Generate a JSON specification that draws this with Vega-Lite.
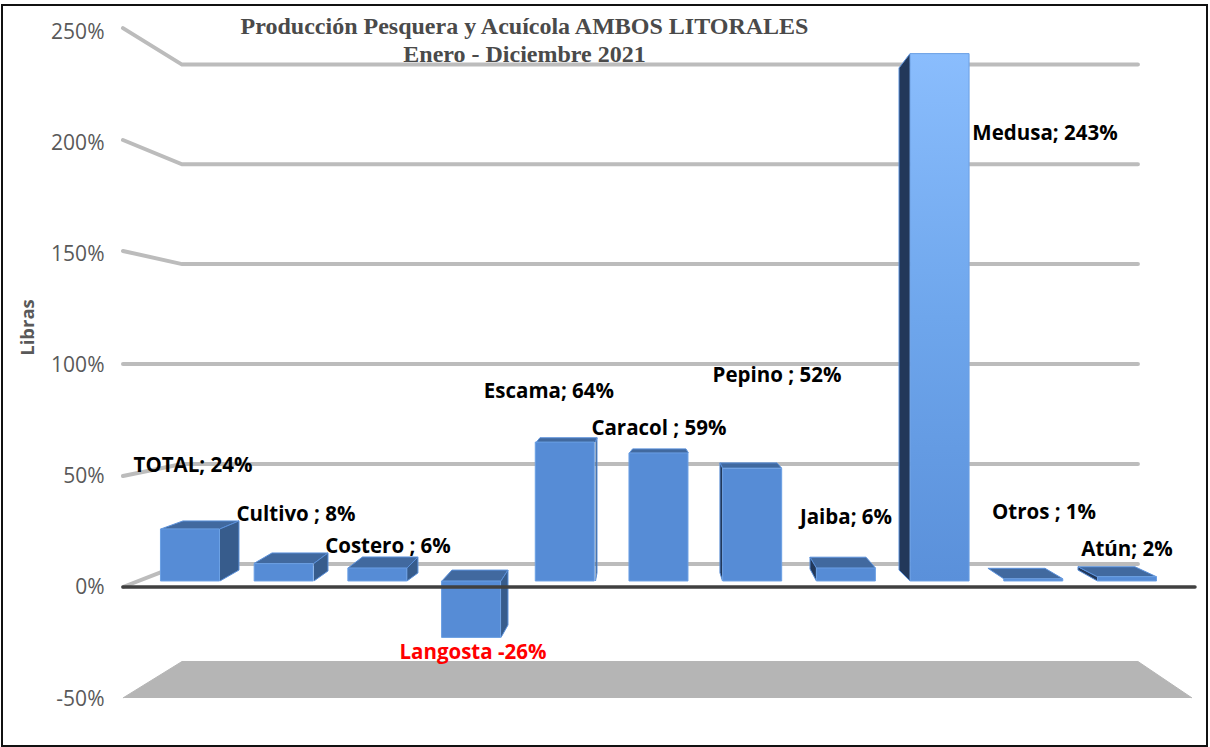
{
"$schema":"https://vega.github.io/schema/vega-lite/v6.json",
"width":1205,"height":741,
"autosize":{"type":"none"},
"padding":{"left":2,"top":5,"right":3,"bottom":1},
"background":"white",
"view":{"stroke":"#111111","strokeWidth":2,"fill":"white"},
"title":{"text":["Producción Pesquera y Acuícola AMBOS LITORALES","Enero - Diciembre  2021"],"font":"Liberation Serif","fontSize":24,"fontWeight":"bold","color":"#4a4a4a","anchor":"middle","frame":"group","orient":"top","baseline":"top","offset":-62,"dx":-80,"lineHeight":28},
"datasets":{
"bars":[
{"category":"TOTAL","pos":1,"value":24},{"category":"Cultivo","pos":2,"value":8},{"category":"Costero","pos":3,"value":6},{"category":"Langosta","pos":4,"value":-26},{"category":"Escama","pos":5,"value":64},{"category":"Caracol","pos":6,"value":59},{"category":"Pepino","pos":7,"value":52},{"category":"Jaiba","pos":8,"value":6},{"category":"Medusa","pos":9,"value":243},{"category":"Otros","pos":10,"value":1},{"category":"Atún","pos":11,"value":2}],
"labels":[
{"label":"TOTAL; 24%","pos":1.032,"val":54.9,"kind":"pos"},{"label":"Cultivo ; 8%","pos":2.131,"val":32.8,"kind":"pos"},{"label":"Costero ; 6%","pos":3.113,"val":18.4,"kind":"pos"},{"label":"Langosta -26%","pos":4.02,"val":-29.2,"kind":"neg"},{"label":"Escama; 64%","pos":4.831,"val":88.1,"kind":"pos"},{"label":"Caracol ; 59%","pos":6.005,"val":71.5,"kind":"pos"},{"label":"Pepino ; 52%","pos":7.265,"val":95.3,"kind":"pos"},{"label":"Jaiba; 6%","pos":8.001,"val":31.5,"kind":"pos"},{"label":"Medusa; 243%","pos":10.125,"val":204.1,"kind":"pos"},{"label":"Otros ; 1%","pos":10.114,"val":33.7,"kind":"pos"},{"label":"Atún; 2%","pos":11,"val":17.1,"kind":"pos"}],
"grid":[
{"level":"250%","n":1,"pos":0.285,"val":251.3},{"level":"250%","n":2,"pos":0.915,"val":234.9},{"level":"250%","n":3,"pos":11.117,"val":234.9},
{"level":"200%","n":1,"pos":0.285,"val":201},{"level":"200%","n":2,"pos":0.915,"val":190.1},{"level":"200%","n":3,"pos":11.117,"val":190.1},
{"level":"150%","n":1,"pos":0.285,"val":151.1},{"level":"150%","n":2,"pos":0.915,"val":145.2},{"level":"150%","n":3,"pos":11.117,"val":145.2},
{"level":"100%","n":1,"pos":0.285,"val":100.3},{"level":"100%","n":2,"pos":0.915,"val":100.3},{"level":"100%","n":3,"pos":11.117,"val":100.3},
{"level":"50%","n":1,"pos":0.285,"val":49.9},{"level":"50%","n":2,"pos":0.915,"val":55.3},{"level":"50%","n":3,"pos":11.117,"val":55.3},
{"level":"0%","n":1,"pos":0.285,"val":0},{"level":"0%","n":2,"pos":0.915,"val":10.3},{"level":"0%","n":3,"pos":11.117,"val":10.3}],
"floor":[{"n":1,"pos":0.285,"val":-49.9},{"n":2,"pos":0.915,"val":-33.5},{"n":3,"pos":11.117,"val":-33.5},{"n":4,"pos":11.694,"val":-49.9}],
"baseline":[{"n":1,"pos":0.285,"val":0},{"n":2,"pos":11.726,"val":0}],
"faces":[
{"poly":"TOTAL top","face":"top","n":1,"pos":0.69,"val":26.1},{"poly":"TOTAL top","face":"top","n":2,"pos":0.925,"val":29.7},{"poly":"TOTAL top","face":"top","n":3,"pos":1.523,"val":29.7},{"poly":"TOTAL top","face":"top","n":4,"pos":1.32,"val":26.1},
{"poly":"TOTAL side","face":"right","n":1,"pos":1.32,"val":26.1},{"poly":"TOTAL side","face":"right","n":2,"pos":1.523,"val":29.7},{"poly":"TOTAL side","face":"right","n":3,"pos":1.523,"val":7.6},{"poly":"TOTAL side","face":"right","n":4,"pos":1.32,"val":2.7},
{"poly":"Cultivo top","face":"top","n":1,"pos":1.683,"val":10.6},{"poly":"Cultivo top","face":"top","n":2,"pos":1.875,"val":15.3},{"poly":"Cultivo top","face":"top","n":3,"pos":2.473,"val":15.3},{"poly":"Cultivo top","face":"top","n":4,"pos":2.323,"val":10.6},
{"poly":"Cultivo side","face":"right","n":1,"pos":2.323,"val":10.6},{"poly":"Cultivo side","face":"right","n":2,"pos":2.473,"val":15.3},{"poly":"Cultivo side","face":"right","n":3,"pos":2.473,"val":7.2},{"poly":"Cultivo side","face":"right","n":4,"pos":2.323,"val":2.7},
{"poly":"Costero top","face":"top","n":1,"pos":2.686,"val":8.5},{"poly":"Costero top","face":"top","n":2,"pos":2.841,"val":13.5},{"poly":"Costero top","face":"top","n":3,"pos":3.433,"val":13.5},{"poly":"Costero top","face":"top","n":4,"pos":3.316,"val":8.5},
{"poly":"Costero side","face":"right","n":1,"pos":3.316,"val":8.5},{"poly":"Costero side","face":"right","n":2,"pos":3.433,"val":13.5},{"poly":"Costero side","face":"right","n":3,"pos":3.433,"val":6.3},{"poly":"Costero side","face":"right","n":4,"pos":3.316,"val":2.7},
{"poly":"Langosta top","face":"top","n":1,"pos":3.689,"val":2.7},{"poly":"Langosta top","face":"top","n":2,"pos":3.796,"val":7.6},{"poly":"Langosta top","face":"top","n":3,"pos":4.394,"val":7.6},{"poly":"Langosta top","face":"top","n":4,"pos":4.319,"val":2.7},
{"poly":"Langosta side","face":"right","n":1,"pos":4.319,"val":2.7},{"poly":"Langosta side","face":"right","n":2,"pos":4.394,"val":7.6},{"poly":"Langosta side","face":"right","n":3,"pos":4.394,"val":-17.1},{"poly":"Langosta side","face":"right","n":4,"pos":4.319,"val":-22.7},
{"poly":"Escama top","face":"top","n":1,"pos":4.698,"val":65.2},{"poly":"Escama top","face":"top","n":2,"pos":4.735,"val":67.1},{"poly":"Escama top","face":"top","n":3,"pos":5.344,"val":67.1},{"poly":"Escama top","face":"top","n":4,"pos":5.328,"val":65.2},
{"poly":"Escama side","face":"right","n":1,"pos":5.328,"val":65.2},{"poly":"Escama side","face":"right","n":2,"pos":5.344,"val":67.1},{"poly":"Escama side","face":"right","n":3,"pos":5.344,"val":6.4},{"poly":"Escama side","face":"right","n":4,"pos":5.328,"val":2.7},
{"poly":"Caracol top","face":"top","n":1,"pos":5.69,"val":60.3},{"poly":"Caracol top","face":"top","n":2,"pos":5.724,"val":62.1},{"poly":"Caracol top","face":"top","n":3,"pos":6.293,"val":62.1},{"poly":"Caracol top","face":"top","n":4,"pos":6.32,"val":60.3},
{"poly":"Pepino top","face":"top","n":1,"pos":6.683,"val":53.5},{"poly":"Pepino top","face":"top","n":2,"pos":6.656,"val":55.8},{"poly":"Pepino top","face":"top","n":3,"pos":7.265,"val":55.8},{"poly":"Pepino top","face":"top","n":4,"pos":7.313,"val":53.5},
{"poly":"Pepino side","face":"left","n":1,"pos":6.683,"val":53.5},{"poly":"Pepino side","face":"left","n":2,"pos":6.656,"val":55.8},{"poly":"Pepino side","face":"left","n":3,"pos":6.656,"val":6.4},{"poly":"Pepino side","face":"left","n":4,"pos":6.683,"val":2.7},
{"poly":"Jaiba top","face":"top","n":1,"pos":7.686,"val":8.5},{"poly":"Jaiba top","face":"top","n":2,"pos":7.617,"val":13.4},{"poly":"Jaiba top","face":"top","n":3,"pos":8.215,"val":13.4},{"poly":"Jaiba top","face":"top","n":4,"pos":8.316,"val":8.5},
{"poly":"Jaiba side","face":"left","n":1,"pos":7.686,"val":8.5},{"poly":"Jaiba side","face":"left","n":2,"pos":7.617,"val":13.4},{"poly":"Jaiba side","face":"left","n":3,"pos":7.617,"val":8.1},{"poly":"Jaiba side","face":"left","n":4,"pos":7.686,"val":2.7},
{"poly":"Medusa side","face":"left","n":1,"pos":8.684,"val":239.8},{"poly":"Medusa side","face":"left","n":2,"pos":8.567,"val":233.4},{"poly":"Medusa side","face":"left","n":3,"pos":8.567,"val":7.6},{"poly":"Medusa side","face":"left","n":4,"pos":8.684,"val":2.7},
{"poly":"Otros top","face":"top","n":1,"pos":9.685,"val":3.7},{"poly":"Otros top","face":"top","n":2,"pos":9.516,"val":8.4},{"poly":"Otros top","face":"top","n":3,"pos":10.125,"val":8.4},{"poly":"Otros top","face":"top","n":4,"pos":10.315,"val":3.7},
{"poly":"Atún side","face":"left","n":1,"pos":10.685,"val":4.6},{"poly":"Atún side","face":"left","n":2,"pos":10.477,"val":9.1},{"poly":"Atún side","face":"left","n":3,"pos":10.477,"val":7.6},{"poly":"Atún side","face":"left","n":4,"pos":10.685,"val":2.7},
{"poly":"Atún top","face":"top","n":1,"pos":10.685,"val":4.6},{"poly":"Atún top","face":"top","n":2,"pos":10.477,"val":9.1},{"poly":"Atún top","face":"top","n":3,"pos":11.085,"val":9.1},{"poly":"Atún top","face":"top","n":4,"pos":11.315,"val":4.6}
]},
"encoding":{"x":{"field":"pos","type":"quantitative","scale":{"domain":[-1.006,11.854],"nice":false,"zero":false,"padding":0},"axis":null}},
"layer":[
{"data":{"name":"floor"},"mark":{"type":"line","fill":"#b5b5b5","stroke":"#b5b5b5","strokeWidth":1,"interpolate":"linear"},
 "encoding":{"order":{"field":"n","type":"quantitative"},"y":{"field":"val","type":"quantitative","scale":{"domain":[-71.5,261.7],"nice":false,"zero":false},
 "axis":{"title":"Libras","titleFont":"Open Sans","titleFontSize":18.5,"titleFontWeight":"bold","titleColor":"#595959","titleX":-67,"titleY":322,"titleAngle":-90,"values":[-50,0,50,100,150,200,250],"labelExpr":"datum.value + '%'","labelFont":"Open Sans","labelFontSize":21,"labelColor":"#595959","labelPadding":0,"labelOffset":1,"domain":false,"ticks":false,"grid":false,"offset":-102,"labelOverlap":false}}}},
{"data":{"name":"grid"},"mark":{"type":"line","stroke":"#bcbcbc","strokeWidth":4,"strokeCap":"round"},
 "encoding":{"detail":{"field":"level"},"order":{"field":"n","type":"quantitative"},"y":{"field":"val","type":"quantitative","scale":{"domain":[-71.5,261.7],"nice":false,"zero":false},"axis":null}}},
{"data":{"name":"faces"},"mark":{"type":"line","strokeWidth":1,"strokeJoin":"round"},
 "encoding":{"detail":{"field":"poly"},"order":{"field":"n","type":"quantitative"},"y":{"field":"val","type":"quantitative","scale":{"domain":[-71.5,261.7],"nice":false,"zero":false},"axis":null},
 "fill":{"field":"face","type":"nominal","scale":{"domain":["top","right","left"],"range":["#41699f","#375c8c","#22385a"]},"legend":null},
 "stroke":{"value":"#5a90da"}}},
{"data":{"name":"bars"},"mark":{"type":"bar","orient":"vertical","size":59,"stroke":"#6a9fe4","strokeWidth":1},
 "encoding":{"y":{"field":"value","type":"quantitative","scale":{"domain":[-76.04,265.4],"nice":false,"zero":false},"axis":null},"y2":{"datum":0},
 "fill":{"condition":{"test":"datum.category === 'Medusa'","value":{"gradient":"linear","x1":0,"y1":0,"x2":0,"y2":1,"stops":[{"offset":0,"color":"#8abdfd"},{"offset":0.5,"color":"#6ea6ec"},{"offset":1,"color":"#5a90da"}]}},"value":"#568cd6"}}},
{"data":{"name":"baseline"},"mark":{"type":"line","stroke":"#404040","strokeWidth":3.5,"strokeCap":"round"},
 "encoding":{"order":{"field":"n","type":"quantitative"},"y":{"field":"val","type":"quantitative","scale":{"domain":[-71.5,261.7],"nice":false,"zero":false},"axis":null}}},
{"data":{"name":"labels"},"mark":{"type":"text","font":"Open Sans","fontWeight":"bold","fontSize":20.5,"align":"center","baseline":"middle","dy":1},
 "encoding":{"text":{"field":"label"},"y":{"field":"val","type":"quantitative","scale":{"domain":[-71.5,261.7],"nice":false,"zero":false},"axis":null},
 "color":{"field":"kind","type":"nominal","scale":{"domain":["pos","neg"],"range":["#000000","#ff0000"]},"legend":null}}}
],
"resolve":{"scale":{"y":"independent","fill":"independent","color":"independent"},"axis":{"y":"independent"}}
}
